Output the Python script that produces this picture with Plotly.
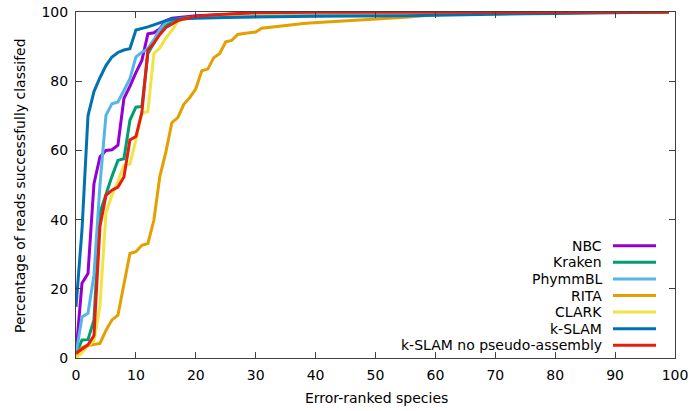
import plotly.graph_objects as go

# ---------------- data ----------------
nbc_x = [0, 1, 2, 3, 4, 5, 6, 7, 8, 9, 10, 11, 12, 13, 14, 15, 16, 18, 20, 25, 30, 40, 50, 60, 99]
nbc_y = [1.4, 21.6, 24.4, 50.4, 58.1, 60.0, 60.2, 61.5, 75.0, 78.5, 82.5, 86.0, 93.7, 94.0, 95.2, 97.5, 98.2, 98.6, 98.9, 99.3, 99.6, 99.8, 99.9, 100, 100]

kraken_x = [0, 1, 2, 3, 4, 5, 6, 7, 8, 9, 10, 11, 12, 13, 14, 15, 16, 17, 18, 20, 25, 30, 40, 60, 99]
kraken_y = [1.0, 5.2, 5.3, 11.0, 42.0, 47.5, 52.5, 57.1, 57.6, 68.7, 72.5, 72.7, 88.0, 91.0, 94.0, 96.0, 97.5, 98.0, 98.3, 98.6, 99.1, 99.4, 99.7, 99.9, 100]

phymm_x = [0, 1, 2, 3, 4, 5, 6, 7, 8, 9, 10, 11, 12, 13, 14, 15, 16, 18, 20, 25, 30, 40, 60, 99]
phymm_y = [1.0, 11.9, 12.9, 24.0, 50.0, 70.1, 73.5, 74.0, 77.3, 80.7, 87.0, 88.4, 89.4, 92.0, 95.0, 97.0, 97.8, 98.2, 98.4, 98.9, 99.2, 99.5, 99.8, 100]

rita_x = [0, 1, 2, 3, 4, 5, 6, 7, 8, 9, 10, 11, 12, 13, 14, 15, 16, 17, 18, 19, 20, 21, 22, 23, 24, 25, 26, 27, 28, 29, 30,
          31, 32, 33, 34, 35, 36, 37, 38, 39, 40, 42, 44, 46, 48, 50, 52, 55, 57, 60, 65, 70, 80, 90, 99]
rita_y = [0.8, 3.0, 3.6, 4.0, 4.2, 8.0, 11.0, 12.4, 21.0, 30.2, 30.7, 32.6, 33.1, 39.8, 52.5, 59.5, 68.0, 69.5, 73.3, 75.3, 77.8, 83.0, 83.5, 86.8, 88.0, 91.4, 91.8, 93.5, 93.8, 94.0, 94.2,
          95.3, 95.5, 95.9, 96.0, 96.3, 96.4, 96.6, 96.7, 96.8, 96.9, 97.1, 97.4, 97.6, 97.8, 98.0, 98.2, 98.5, 98.8, 99.2, 99.4, 99.6, 99.8, 99.9, 100]

clark_x = [0, 1, 2, 3, 4, 5, 6, 7, 8, 9, 10, 11, 12, 13, 14, 15, 16, 17, 18, 20, 25, 30, 40, 60, 99]
clark_y = [0.0, 1.5, 3.5, 5.0, 15.0, 42.0, 47.0, 51.0, 55.7, 56.0, 63.0, 70.8, 71.2, 88.0, 89.6, 92.5, 94.6, 97.3, 98.0, 98.5, 99.2, 99.6, 99.8, 99.9, 100]

kslam_x = [0, 1, 2, 3, 4, 5, 6, 7, 8, 9, 10, 11, 12, 13, 14, 15, 16, 18, 20, 25, 30, 40, 55, 60, 70, 75, 80, 90, 99]
kslam_y = [14.8, 37.0, 70.0, 77.0, 81.0, 84.5, 87.0, 88.3, 89.0, 89.4, 94.8, 95.2, 95.7, 96.3, 97.0, 97.5, 97.9, 98.1, 98.2, 98.4, 98.6, 98.8, 98.9, 99.1, 99.3, 99.5, 99.6, 99.8, 100]

kslam_np_x = [0, 1, 2, 3, 4, 5, 6, 7, 8, 9, 10, 11, 12, 13, 14, 15, 16, 17, 18, 20, 24, 30, 40, 99]
kslam_np_y = [1.4, 2.5, 3.8, 6.5, 38.0, 47.0, 48.5, 49.4, 52.3, 63.0, 64.0, 71.0, 89.0, 91.0, 93.5, 95.5, 96.5, 97.5, 98.0, 98.8, 99.3, 99.8, 99.9, 100]

x_ticks = [0, 10, 20, 30, 40, 50, 60, 70, 80, 90, 100]
y_ticks = [0, 20, 40, 60, 80, 100]

series = [
    ("NBC", nbc_x, nbc_y, "#9400D3"),
    ("Kraken", kraken_x, kraken_y, "#009E73"),
    ("PhymmBL", phymm_x, phymm_y, "#56B4E9"),
    ("RITA", rita_x, rita_y, "#E69F00"),
    ("CLARK", clark_x, clark_y, "#F0E442"),
    ("k-SLAM", kslam_x, kslam_y, "#0072B2"),
    ("k-SLAM no pseudo-assembly", kslam_np_x, kslam_np_y, "#E51E10"),
]

# ---------------- layout geometry (screen pixels; body margin removed) ----------------
W, H = 693, 411
ML, MR, MT, MB = 76, 18, 12, 53
PW, PH = W - ML - MR, H - MT - MB
FONT = "DejaVu Sans"


def px2paper_x(px):
    return (px - ML) / PW


def px2paper_y(py):
    return (H - MB - py) / PH


fig = go.Figure()
for name, xs, ys, col in series:
    fig.add_trace(go.Scatter(x=xs, y=ys, mode="lines", name=name,
                             line=dict(color=col, width=3), showlegend=False))

# custom legend (text right-aligned, sample line on the right like gnuplot)
shapes = []
annotations = []
row0, step = 245.7, 16.6
for i, (name, xs, ys, col) in enumerate(series):
    py = row0 + i * step
    annotations.append(dict(xref="paper", yref="paper", x=px2paper_x(604), y=px2paper_y(py),
                            xanchor="right", yanchor="middle", text=name, showarrow=False,
                            font=dict(family=FONT, size=14, color="#000000")))
    shapes.append(dict(type="line", xref="paper", yref="paper",
                       x0=px2paper_x(613), x1=px2paper_x(656),
                       y0=px2paper_y(py), y1=px2paper_y(py),
                       line=dict(color=col, width=3)))

# axis titles
annotations.append(dict(xref="paper", yref="paper", x=px2paper_x(376), y=px2paper_y(398),
                        xanchor="center", yanchor="middle", text="Error-ranked species", showarrow=False,
                        font=dict(family=FONT, size=14, color="#000000")))
annotations.append(dict(xref="paper", yref="paper", x=px2paper_x(20), y=px2paper_y(186),
                        xanchor="center", yanchor="middle", text="Percentage of reads successfully classifed",
                        textangle=-90, showarrow=False,
                        font=dict(family=FONT, size=14, color="#000000")))

axis_common = dict(showgrid=False, zeroline=False, showline=True, linecolor="#404040", linewidth=1,
                   mirror="ticks", ticks="inside", ticklen=6, tickwidth=1, tickcolor="#404040",
                   ticklabeloverflow="allow",
                   tickfont=dict(family=FONT, size=14, color="#000000"))

fig.update_layout(
    width=W, height=H,
    margin=dict(l=ML, r=MR, t=MT, b=MB, autoexpand=False),
    paper_bgcolor="white", plot_bgcolor="white",
    xaxis=dict(range=[0, 100], tickvals=x_ticks, ticktext=[str(v) for v in x_ticks],
               ticklabelstandoff=4, **axis_common),
    yaxis=dict(range=[0, 100], tickvals=y_ticks, ticktext=[str(v) for v in y_ticks],
               ticklabelstandoff=4, **axis_common),
    shapes=shapes, annotations=annotations, showlegend=False,
)

fig.write_html("out.html", config={"displayModeBar": False},
               post_script="document.body.style.margin='0';document.body.style.overflow='hidden';")
